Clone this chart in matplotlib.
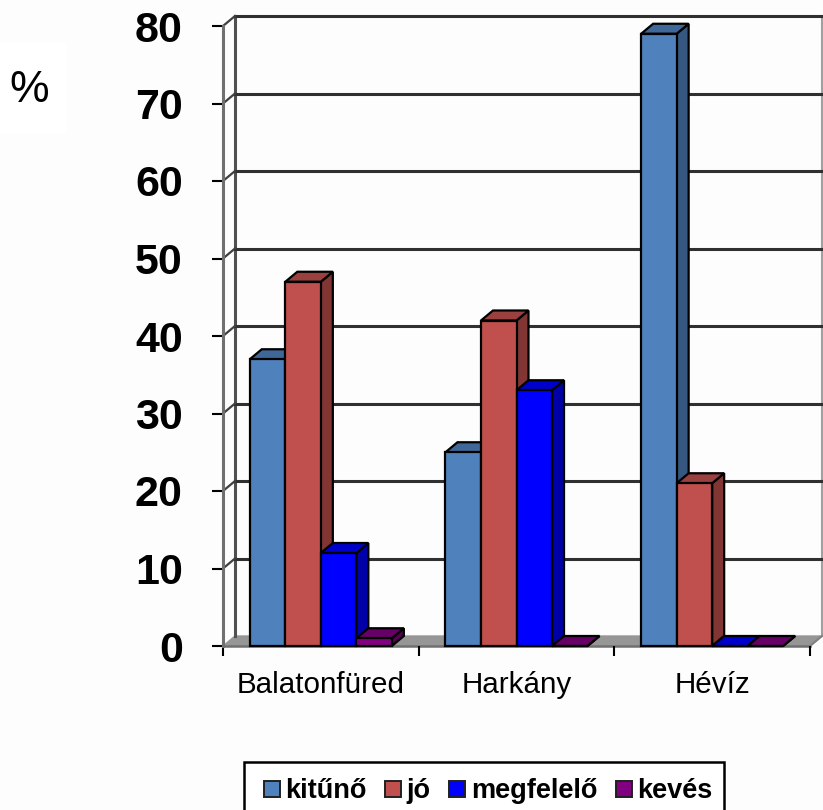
import matplotlib
matplotlib.use('Agg')
import matplotlib.pyplot as plt
from matplotlib.patches import Patch, Rectangle

plt.rcParams['font.family'] = ['Liberation Sans', 'DejaVu Sans']

categories = ['Balatonfüred', 'Harkány', 'Hévíz']
series = ['kitűnő', 'jó', 'megfelelő', 'kevés']
kituno = [37, 25, 79]
jo = [47, 42, 21]
megfelelo = [12, 33, 0]
keves = [1, 0, 0]
yticks = [0, 10, 20, 30, 40, 50, 60, 70, 80]

front_colors = ['#4F81BD', '#C0504D', '#0000FF', '#800080']
top_colors = ['#3F6797', '#9A403E', '#0000CC', '#660066']
side_colors = ['#355780', '#823634', '#0000A8', '#550055']

W, H = 823, 810
fig = plt.figure(figsize=(W / 100, H / 100), dpi=100, facecolor='#FDFDFD')
ax = fig.add_axes([223 / W, 1 - 646 / H, 587 / W, 620 / H])
ax.set_xlim(0, 3)
ax.set_ylim(0, 80)
ax.patch.set_visible(False)

# 3d depth of the old excel style chart, in data units
dx = 12 / (587 / 3)
dy = 10 / (620 / 80)

# walls and floor
ax.fill([0, 3, 3 + dx, dx], [0, 0, dy, dy], color='#969696', clip_on=False, zorder=1)
ax.plot([0, 3], [0, 0], color='#707070', lw=1.8, clip_on=False, zorder=1.5)
ax.plot([3, 3 + dx], [0, dy], color='#808080', lw=1.5, clip_on=False, zorder=1.5)
ax.plot([dx, dx], [dy, 80 + dy], color='#505050', lw=2.2, clip_on=False, zorder=1.2)
ax.plot([3 + dx, 3 + dx], [dy, 80 + dy], color='#A0A0A0', lw=1.5, clip_on=False, zorder=1.2)
for v in yticks[1:]:
    ax.plot([dx, 3 + dx], [v + dy, v + dy], color='#303030', lw=2.2, clip_on=False, zorder=1.2)
    ax.plot([0, dx], [v, v + dy], color='#404040', lw=1.6, clip_on=False, zorder=1.2)

# bars, left to right so that the next front hides the side
values = [kituno, jo, megfelelo, keves]
bar_w = 0.1815
z = 2
for c in range(len(categories)):
    for s in range(len(series)):
        x0 = c + 0.5 + (s - 2) * bar_w
        x1 = x0 + bar_w
        v = values[s][c]
        ax.fill([x1, x1 + dx, x1 + dx, x1], [0, dy, v + dy, v], facecolor=side_colors[s],
                edgecolor='black', lw=1.6, clip_on=False, zorder=z)
        ax.fill([x0, x1, x1 + dx, x0 + dx], [v, v, v + dy, v + dy], facecolor=top_colors[s],
                edgecolor='black', lw=1.6, clip_on=False, zorder=z)
        ax.bar(x0, v, bar_w, align='edge', color=front_colors[s], edgecolor='black', lw=1.6,
               clip_on=False, zorder=z + 0.5)
        z += 1

for name in ['top', 'right', 'bottom']:
    ax.spines[name].set_visible(False)
ax.spines['left'].set_color('#707070')
ax.spines['left'].set_linewidth(2.2)

ax.set_yticks(yticks)
ax.set_yticklabels([str(v) for v in yticks], fontsize=31, fontweight='bold')
ax.tick_params(axis='y', length=8, width=1.5, pad=21, color='black')
ax.set_xticks([0, 1, 2, 3])
ax.set_xticklabels([])
ax.tick_params(axis='x', which='major', length=7, width=1.5, color='black')
ax.set_xticks([0.5, 1.5, 2.5], minor=True)
ax.set_xticklabels(categories, minor=True, fontsize=21.3)
ax.tick_params(axis='x', which='minor', length=0, pad=18)

# white box behind the unit label
fig.add_artist(Rectangle((0, 1 - 133 / H), 66 / W, 90 / H, transform=fig.transFigure,
                         facecolor='white', edgecolor='none'))
fig.text(29 / W, 1 - 91 / H, '%', fontsize=32, ha='center', va='center')

# legend box runs off the bottom of the picture, tighter on the right than the left
fig.add_artist(Rectangle((244 / W, -20 / H), 480 / W, (H - 762 + 20) / H, transform=fig.transFigure,
                         facecolor='white', edgecolor='black', lw=1.8, clip_on=False))
handles = [Patch(facecolor=front_colors[i], edgecolor='#202020', lw=1.4) for i in range(4)]
leg = fig.legend(handles, series, ncol=4, loc='lower left', bbox_to_anchor=(244 / W, -14 / H),
                 bbox_transform=fig.transFigure, frameon=False, handlelength=0.6, handleheight=0.5,
                 handletextpad=0.2, columnspacing=0.68, borderpad=0.72, borderaxespad=0,
                 prop={'size': 19.5, 'weight': 'bold'})

fig.savefig('out.png', dpi=100, facecolor=fig.get_facecolor())
plt.close()
